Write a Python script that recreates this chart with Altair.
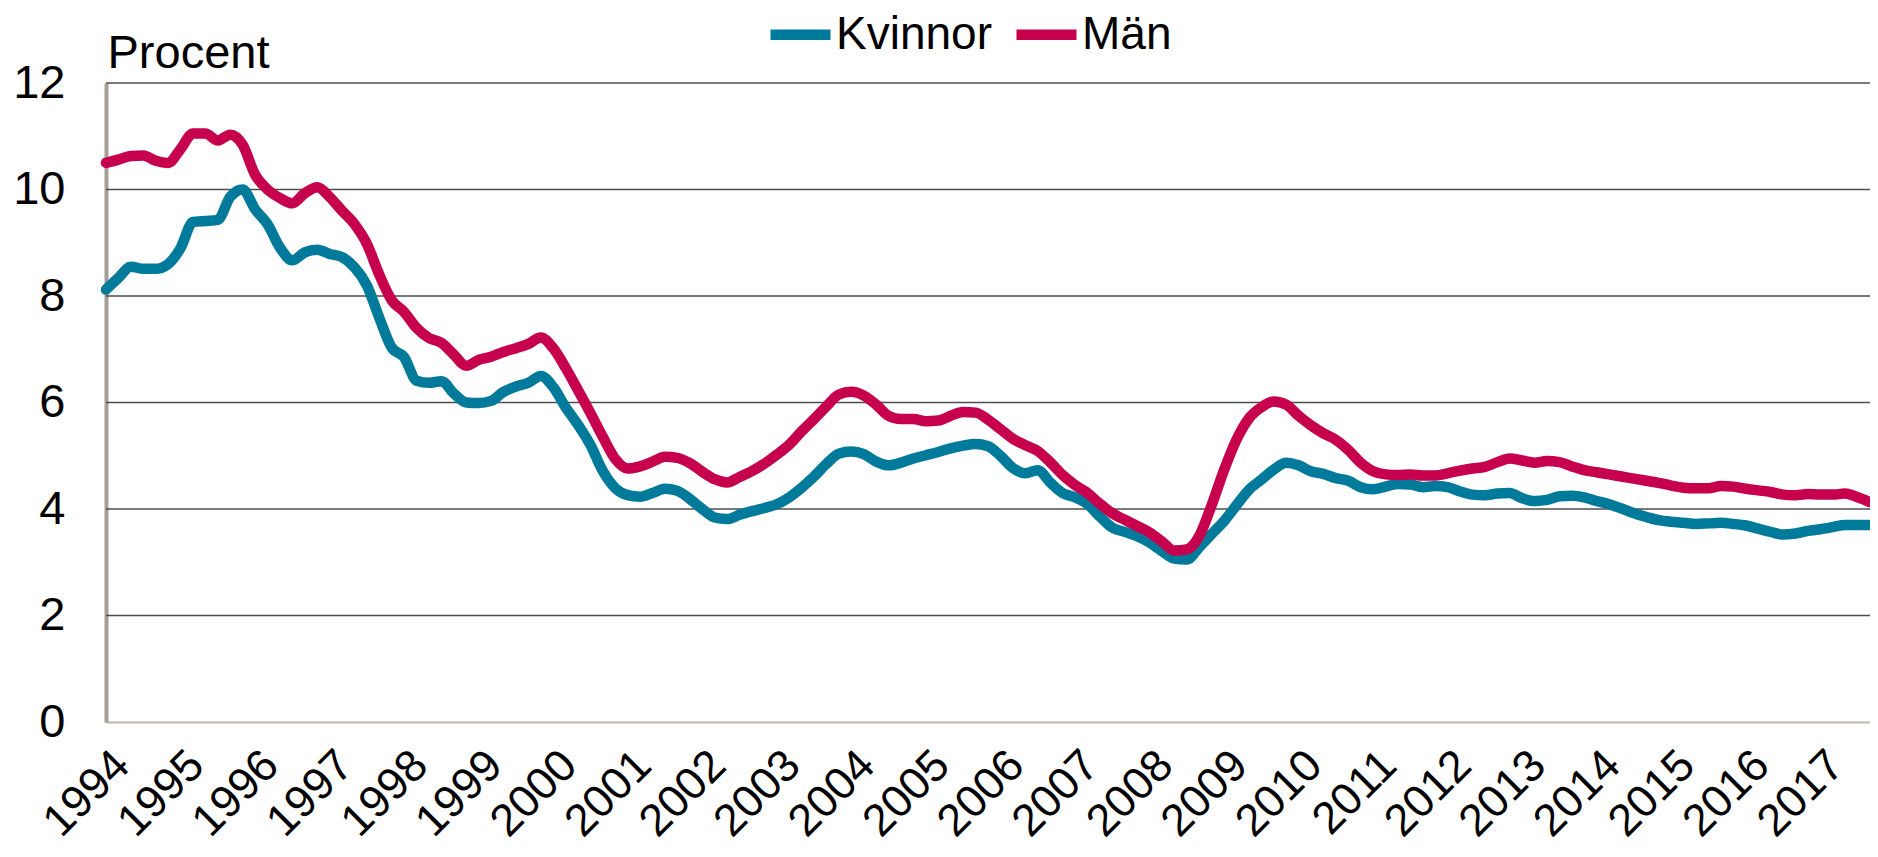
import altair as alt
import pandas as pd

# ---- data ----
years = list(range(1994, 2018))                 # x-axis tick labels
month_offsets = list(range(0, 285, 2))          # months since Jan 1994, every second month
kvinnor = [
    8.12, 8.34, 8.55, 8.51, 8.51, 8.60, 8.90, 9.39, 9.41, 9.43, 9.86, 10.00,
    9.63, 9.35, 8.91, 8.67, 8.82, 8.87, 8.79, 8.73, 8.54, 8.20, 7.59, 7.03,
    6.85, 6.41, 6.37, 6.40, 6.17, 6.00, 5.99, 6.03, 6.20, 6.30, 6.37, 6.50,
    6.29, 5.91, 5.58, 5.20, 4.71, 4.39, 4.26, 4.23, 4.30, 4.38, 4.34, 4.19,
    4.00, 3.84, 3.81, 3.89, 3.96, 4.02, 4.09, 4.22, 4.40, 4.61, 4.85, 5.04,
    5.08, 5.03, 4.89, 4.82, 4.87, 4.95, 5.01, 5.07, 5.14, 5.19, 5.22, 5.18,
    5.00, 4.77, 4.67, 4.73, 4.50, 4.30, 4.22, 4.09, 3.86, 3.65, 3.57, 3.49,
    3.37, 3.21, 3.07, 3.05, 3.28, 3.53, 3.77, 4.07, 4.36, 4.55, 4.74, 4.87,
    4.82, 4.71, 4.66, 4.58, 4.53, 4.41, 4.37, 4.42, 4.47, 4.46, 4.41, 4.43,
    4.41, 4.33, 4.27, 4.26, 4.29, 4.30, 4.20, 4.15, 4.17, 4.24, 4.25, 4.22,
    4.15, 4.09, 4.01, 3.92, 3.85, 3.79, 3.76, 3.74, 3.72, 3.73, 3.74, 3.72,
    3.69, 3.63, 3.57, 3.52, 3.54, 3.59, 3.62, 3.66, 3.70, 3.70, 3.70,
]
man = [
    10.50, 10.56, 10.63, 10.64, 10.54, 10.50, 10.76, 11.05, 11.05, 10.92, 11.03, 10.84,
    10.28, 10.00, 9.84, 9.74, 9.93, 10.04, 9.86, 9.60, 9.35, 8.98, 8.40, 7.92,
    7.70, 7.40, 7.21, 7.12, 6.90, 6.69, 6.80, 6.86, 6.95, 7.02, 7.10, 7.22,
    7.02, 6.65, 6.23, 5.80, 5.35, 4.94, 4.76, 4.80, 4.89, 4.98, 4.96, 4.86,
    4.70, 4.56, 4.50, 4.60, 4.71, 4.85, 5.02, 5.21, 5.46, 5.69, 5.93, 6.15,
    6.20, 6.13, 5.96, 5.75, 5.69, 5.69, 5.65, 5.66, 5.75, 5.82, 5.81, 5.68,
    5.50, 5.32, 5.20, 5.09, 4.88, 4.64, 4.45, 4.30, 4.10, 3.92, 3.80, 3.68,
    3.56, 3.39, 3.22, 3.24, 3.49, 4.07, 4.73, 5.30, 5.70, 5.91, 6.02, 5.96,
    5.75, 5.57, 5.42, 5.30, 5.11, 4.87, 4.71, 4.65, 4.64, 4.65, 4.63, 4.63,
    4.67, 4.72, 4.76, 4.79, 4.88, 4.95, 4.91, 4.87, 4.90, 4.88, 4.80, 4.73,
    4.69, 4.65, 4.61, 4.57, 4.53, 4.49, 4.44, 4.40, 4.39, 4.39, 4.43, 4.42,
    4.38, 4.35, 4.32, 4.27, 4.26, 4.28, 4.27, 4.27, 4.29, 4.22, 4.13,
]
series_names = ["Kvinnor", "Män"]
series_colors = ["#007A9A", "#C6004C"]
y_ticks = [0, 2, 4, 6, 8, 10, 12]
grid_values = [2, 4, 6, 8, 10, 12]

# ---- tables ----
t = [1994 + m / 12 for m in month_offsets]
n = len(t)
df = pd.DataFrame({
    "t": t + t,
    "value": kvinnor + man,
    "serie": [series_names[0]] * n + [series_names[1]] * n,
})
grid_df = pd.DataFrame({"value": grid_values})

W, H = 1764, 639
FONT = "Liberation Sans"

x_scale = alt.Scale(domain=[1994, 1994 + month_offsets[-1] / 12], nice=False, zero=False)
y_scale = alt.Scale(domain=[0, 12], nice=False)

y_axis = alt.Axis(
    values=y_ticks, grid=False, tickSize=0, labelPadding=41,
    labelFontSize=47, labelFont=FONT, labelColor="black",
    domainColor="#A69D95", domainWidth=4,
    title="Procent", titleAngle=0, titleX=1, titleY=-16,
    titleAlign="left", titleBaseline="alphabetic",
    titleFont=FONT, titleFontSize=47, titleFontWeight="normal", titleColor="black",
)
y_enc = alt.Y("value:Q", scale=y_scale, axis=y_axis)

grid = alt.Chart(grid_df).mark_rule(color="#4d4d4d", strokeWidth=1.3).encode(
    y=y_enc,
    x=alt.value(0),
    x2=alt.value(W),
)

lines = alt.Chart(df).mark_line(
    strokeWidth=10.5, strokeCap="round", strokeJoin="round", interpolate="monotone"
).encode(
    x=alt.X("t:Q", scale=x_scale, axis=alt.Axis(
        values=years, format="d", labelAngle=-45, labelAlign="right",
        labelBaseline="top", labelFontSize=45, labelFont=FONT, labelColor="black",
        tickSize=0, labelPadding=20, labelOverlap=False, labelFlush=False,
        domainColor="#BDB6AF", domainWidth=2, grid=False, title=None,
    )),
    y=y_enc,
    color=alt.Color("serie:N", scale=alt.Scale(domain=series_names, range=series_colors),
                    legend=alt.Legend(
                        orient="none", legendX=659, legendY=-84, direction="horizontal",
                        title=None, symbolType="stroke", symbolSize=3600,
                        symbolStrokeWidth=10.5, labelFontSize=46, labelFont=FONT,
                        labelColor="black", labelOffset=0, columnPadding=3, padding=0,
                    )),
)

chart = alt.layer(grid, lines).properties(
    width=W, height=H,
    autosize=alt.AutoSizeParams(type="none"),
    padding={"left": 98, "top": 75, "right": 0, "bottom": 127},
    background="white",
).configure_view(stroke=None)

chart.save("out.html", embed_options={"renderer": "svg", "actions": False})
